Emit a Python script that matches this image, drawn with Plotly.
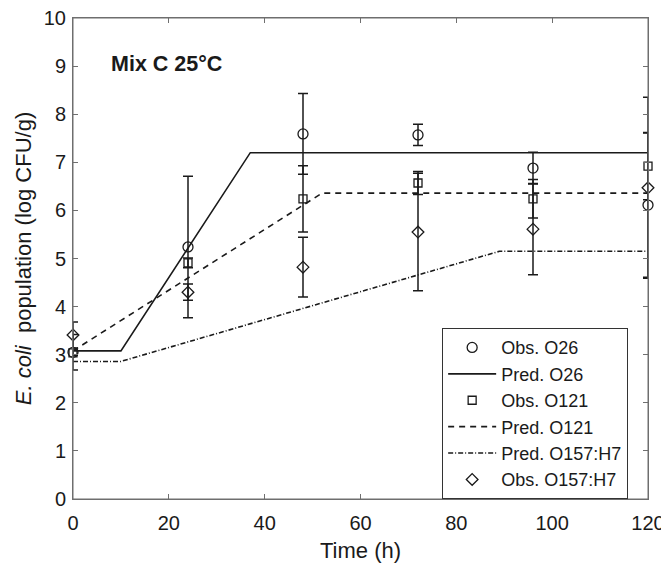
import plotly.graph_objects as go

# ---- data ----
obs_time = [0, 24, 48, 72, 96, 120]
obs_o26 = [3.05, 5.24, 7.59, 7.57, 6.88, 6.11]
err_o26 = [0.37, 1.47, 0.84, 0.22, 0.33, 1.50]
obs_o121 = [3.04, 4.91, 6.24, 6.57, 6.24, 6.92]
err_o121 = [0.05, 0.10, 0.69, 0.24, 0.40, 0.70]
obs_o157 = [3.41, 4.30, 4.82, 5.55, 5.61, 6.47]
err_o157 = [0.27, 0.17, 0.62, 1.22, 0.95, 1.88]

pred_o26_t = [0, 10, 37, 120]
pred_o26_y = [3.08, 3.08, 7.20, 7.20]
pred_o121_t = [0, 52, 120]
pred_o121_y = [3.08, 6.36, 6.36]
pred_o157_t = [0, 10, 89, 120]
pred_o157_y = [2.86, 2.86, 5.15, 5.15]

x_ticks = [0, 20, 40, 60, 80, 100, 120]
y_ticks = list(range(0, 11))

FONT = "Liberation Sans, Arial, Helvetica, sans-serif"
INK = "#1a1a1a"
FRAME = "#6f6f6f"

def err(v):
    return dict(type="data", array=v, visible=True, color=INK, thickness=1.5, width=5)

fig = go.Figure()
fig.add_trace(go.Scatter(x=obs_time, y=obs_o26, mode="markers", name="Obs. O26",
                         marker=dict(symbol="circle-open", size=10, color=INK, line=dict(width=1.3)),
                         error_y=err(err_o26), cliponaxis=False))
fig.add_trace(go.Scatter(x=pred_o26_t, y=pred_o26_y, mode="lines", name="Pred. O26",
                         line=dict(color=INK, width=1.6, dash="solid")))
fig.add_trace(go.Scatter(x=obs_time, y=obs_o121, mode="markers", name="Obs. O121",
                         marker=dict(symbol="square-open", size=8, color=INK, line=dict(width=1.3)),
                         error_y=err(err_o121), cliponaxis=False))
fig.add_trace(go.Scatter(x=pred_o121_t, y=pred_o121_y, mode="lines", name="Pred. O121",
                         line=dict(color=INK, width=1.6, dash="6px,5px")))
fig.add_trace(go.Scatter(x=pred_o157_t, y=pred_o157_y, mode="lines", name="Pred. O157:H7",
                         line=dict(color=INK, width=1.6, dash="5px,2px,1px,2px")))
fig.add_trace(go.Scatter(x=obs_time, y=obs_o157, mode="markers", name="Obs. O157:H7",
                         marker=dict(symbol="diamond-open", size=9, color=INK, line=dict(width=1.3)),
                         error_y=err(err_o157), cliponaxis=False))

axis_common = dict(showline=True, linecolor=FRAME, linewidth=1, mirror="ticks",
                   ticks="inside", ticklen=5, tickcolor=FRAME, showgrid=False, zeroline=False,
                   automargin=False, ticklabeloverflow="allow",
                   tickfont=dict(family=FONT, size=20, color=INK))

# the page body adds an 8px offset, so the figure is sized to the remaining area
fig.update_layout(
    width=661, height=562,
    margin=dict(l=65, r=21, t=10, b=71),
    plot_bgcolor="white", paper_bgcolor="white",
    font=dict(family=FONT, color=INK),
    xaxis=dict(range=[0, 120], tickvals=x_ticks, ticklabelstandoff=6, **axis_common,
               title=dict(text="Time (h)", font=dict(family=FONT, size=22, color=INK), standoff=9)),
    yaxis=dict(range=[0, 10], tickvals=y_ticks, ticklabelstandoff=2, **axis_common,
               title=dict(text="<i>E. coli</i>  population (log CFU/g)",
                          font=dict(family=FONT, size=22, color=INK), standoff=6)),
    legend=dict(x=0.642, y=0.355, xanchor="left", yanchor="top",
                bgcolor="white", bordercolor="#333333", borderwidth=1,
                font=dict(family=FONT, size=18, color=INK),
                traceorder="normal", itemwidth=48, tracegroupgap=0),
    showlegend=True,
)

# axes box frame
fig.add_shape(type="rect", xref="paper", yref="paper", x0=0, x1=1, y0=0, y1=1,
              line=dict(color=FRAME, width=1), fillcolor="rgba(0,0,0,0)", layer="above")

fig.add_annotation(x=7.5, y=9.05, xref="x", yref="y", text="<b>Mix C 25°C</b>",
                   showarrow=False, xanchor="left", yanchor="middle",
                   font=dict(family=FONT, size=21.5, color=INK))

fig.write_html("out.html")
